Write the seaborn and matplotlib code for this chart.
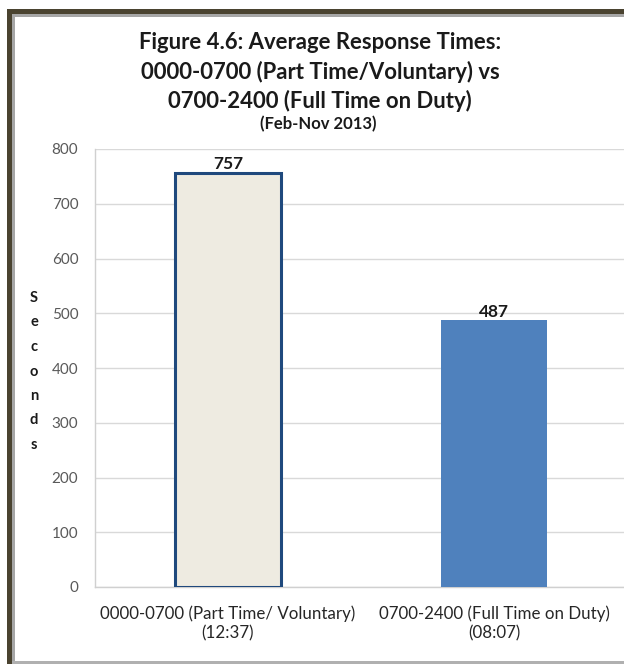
import matplotlib
matplotlib.use("Agg")
import matplotlib.pyplot as plt
import seaborn as sns
import pandas as pd
from matplotlib.patches import Rectangle

# Data
categories = ["0000-0700 (Part Time/ Voluntary)\n(12:37)",
              "0700-2400 (Full Time on Duty)\n(08:07)"]
seconds = [757, 487]
bar_colors = ["#eeebe1", "#4f81bd"]
yticks = [0, 100, 200, 300, 400, 500, 600, 700, 800]

sns.set_theme(style="white")
plt.rcParams["font.family"] = ["Lato", "DejaVu Sans"]

W, H = 624, 664
fig = plt.figure(figsize=(W / 100, H / 100), dpi=100)
ax = fig.add_axes([95 / W, 1 - 587 / H, 532 / W, 438 / H])

df = pd.DataFrame({"period": categories, "seconds": seconds})
sns.barplot(data=df, x="period", y="seconds", hue="period",
            palette=bar_colors, saturation=1, width=0.4, legend=False,
            ax=ax, zorder=3)

# outlined first bar, plain second bar
ax.patches[0].set_edgecolor("#1f497d")
ax.patches[0].set_linewidth(2.2)
ax.patches[1].set_linewidth(0)

ax.set_ylim(0, 800)
ax.set_yticks(yticks)
ax.set_yticklabels([str(t) for t in yticks], color="#595959", fontsize=11)
ax.tick_params(axis="y", length=0, pad=12)
ax.tick_params(axis="x", length=0, pad=13)
for lbl in ax.get_xticklabels():
    lbl.set_fontsize(12.2)
    lbl.set_color("#262626")
    lbl.set_linespacing(1.3)
ax.set_xlabel("")
ax.set_ylabel("")
ax.yaxis.grid(True, color="#d9d9d9", linewidth=1, zorder=0)
ax.set_axisbelow(True)
for side in ["top", "right"]:
    ax.spines[side].set_visible(False)
for side in ["left", "bottom"]:
    ax.spines[side].set_color("#d0d0d0")
    ax.spines[side].set_linewidth(1)

# Value labels
for patch, v in zip(ax.patches, seconds):
    ax.text(patch.get_x() + patch.get_width() / 2, v + 7, str(v),
            ha="center", va="baseline", fontsize=12.5, fontweight="bold",
            color="#1a1a1a")

# Stacked y-axis title
for i, ch in enumerate("Seconds"):
    fig.text(34 / W, 1 - (298 + i * 24.5) / H, ch, ha="center",
             va="center", fontsize=10.5, fontweight="bold", color="#1a1a1a")

# Titles
title_lines = ["Figure 4.6: Average Response Times:",
               "0000-0700 (Part Time/Voluntary) vs",
               "0700-2400 (Full Time on Duty)"]
baselines = [49, 79, 108]
for line, yb in zip(title_lines, baselines):
    fig.text(320 / W, 1 - yb / H, line, ha="center", va="baseline",
             fontsize=15.9, fontweight="bold", color="#1a1a1a")
fig.text(318 / W, 1 - 129 / H, "(Feb-Nov 2013)", ha="center",
         va="baseline", fontsize=12, fontweight="bold", color="#1a1a1a")

# Frame
fig.patches.append(Rectangle((7 / W, 0), 5 / W, 1 - 9 / H, transform=fig.transFigure,
                             facecolor="#4a4330", edgecolor="none", zorder=10))
fig.patches.append(Rectangle((7 / W, 1 - 14 / H), 1, 5 / H, transform=fig.transFigure,
                             facecolor="#4a4330", edgecolor="none", zorder=10))
fig.patches.append(Rectangle((12 / W, 0), 3 / W, 1 - 14 / H, transform=fig.transFigure,
                             facecolor="#a6a6a6", edgecolor="none", zorder=10))
fig.patches.append(Rectangle((12 / W, 1 - 17 / H), 1, 3 / H, transform=fig.transFigure,
                             facecolor="#a6a6a6", edgecolor="none", zorder=10))
fig.patches.append(Rectangle((12 / W, 0), 1, 3 / H, transform=fig.transFigure,
                             facecolor="#b0b0b0", edgecolor="none", zorder=10))

fig.savefig("out.png", dpi=100)
